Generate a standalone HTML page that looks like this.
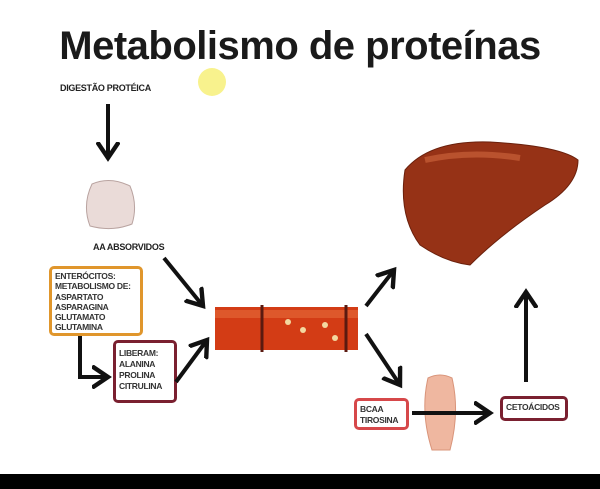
<!DOCTYPE html>
<html><head><style>
body{margin:0;width:600px;height:489px;background:#fff;position:relative;overflow:hidden;font-family:"Liberation Sans",sans-serif}
.t{position:absolute;font-weight:bold;color:#222}
.box{position:absolute;background:#fff;border-radius:5px;font-weight:bold;font-size:8.5px;line-height:11px;color:#333;padding:3px 3px;box-sizing:border-box;white-space:nowrap;letter-spacing:-0.3px}
</style></head><body>
<div style="position:absolute;left:198px;top:68px;width:28px;height:28px;border-radius:50%;background:#f6ef70;opacity:.8"></div>
<div class="t" style="left:0;width:600px;top:24px;text-align:center;font-size:40px;letter-spacing:-0.5px;color:#1a1a1a">Metabolismo de proteínas</div>
<div class="t" style="left:60px;top:83px;font-size:9px;letter-spacing:-0.3px">DIGESTÃO PROTÉICA</div>
<div class="t" style="left:93px;top:242px;font-size:9px;letter-spacing:-0.3px">AA ABSORVIDOS</div>
<div class="box" style="left:49px;top:266px;width:94px;height:70px;border:3px solid #e0962c;line-height:10.3px;padding-top:2px">ENTERÓCITOS:<br>METABOLISMO DE:<br>ASPARTATO<br>ASPARAGINA<br>GLUTAMATO<br>GLUTAMINA</div>
<div class="box" style="left:113px;top:340px;width:64px;height:63px;border:3px solid #7a2030;padding-top:5px">LIBERAM:<br>ALANINA<br>PROLINA<br>CITRULINA</div>
<svg width="600" height="489" style="position:absolute;left:0;top:0">
<defs><marker id="a" markerWidth="6" markerHeight="6" refX="4" refY="3" orient="auto" markerUnits="strokeWidth"><path d="M0,0.3 L4,3 L0,5.7" fill="none" stroke="#111" stroke-width="1.1"/></marker></defs>
<g stroke="#111" stroke-width="4" fill="none" marker-end="url(#a)">
<line x1="108" y1="104" x2="108" y2="158"/>
<line x1="164" y1="258" x2="203" y2="306"/>
<polyline points="80,336 80,377 108,377"/>
<line x1="176" y1="382" x2="207" y2="340"/>
<line x1="366" y1="306" x2="394" y2="270"/>
<line x1="366" y1="334" x2="400" y2="385"/>
<line x1="526" y1="382" x2="526" y2="292"/>
</g>
<path d="M92,184 Q110,176 130,186 Q138,205 132,224 Q112,232 90,226 Q82,205 92,184Z" fill="#eadbd8" stroke="#b9a3a0"/>
<rect x="215" y="307" width="143" height="43" fill="#d33c15"/>
<rect x="215" y="310" width="143" height="8" fill="#e66a3a" opacity=".6"/>
<line x1="262" y1="305" x2="262" y2="352" stroke="#5a1a10" stroke-width="3"/>
<line x1="346" y1="305" x2="346" y2="352" stroke="#5a1a10" stroke-width="3"/>
<circle cx="288" cy="322" r="3" fill="#f3d8a0"/><circle cx="303" cy="330" r="3" fill="#f3d8a0"/><circle cx="325" cy="325" r="3" fill="#f3d8a0"/><circle cx="335" cy="338" r="3" fill="#f3d8a0"/>
<path d="M405,170 Q430,140 490,142 Q560,146 578,160 Q578,185 545,205 Q500,235 470,265 Q445,262 420,245 Q398,215 405,170Z" fill="#963216" stroke="#6a200c"/>
<path d="M425,160 Q470,150 520,158" stroke="#b9522e" stroke-width="6" fill="none"/>
<path d="M428,378 Q440,372 452,378 Q460,412 450,450 L432,450 Q420,412 428,378Z" fill="#efb7a0" stroke="#d9947a"/>
<line x1="412" y1="413" x2="490" y2="413" stroke="#111" stroke-width="4" marker-end="url(#a)"/>
</svg>
<div class="box" style="left:354px;top:398px;width:55px;height:32px;border:3px solid #d6484a;line-height:11px">BCAA<br>TIROSINA</div>
<div class="box" style="left:500px;top:396px;width:68px;height:25px;border:3px solid #7a2030;line-height:13px;padding-top:2px">CETOÁCIDOS</div>
<div style="position:absolute;left:0;top:474px;width:600px;height:15px;background:#000"></div>
</body></html>
